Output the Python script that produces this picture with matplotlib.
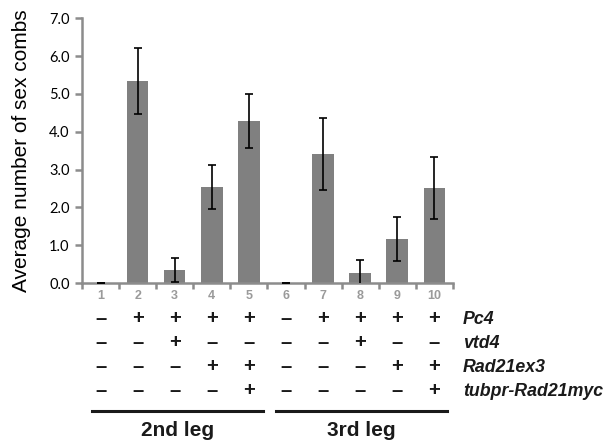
import matplotlib
matplotlib.use('Agg')
import matplotlib.pyplot as plt
from matplotlib.lines import Line2D
from matplotlib.transforms import blended_transform_factory
import numpy as np

# bar values and error bars
lanes = ['1', '2', '3', '4', '5', '6', '7', '8', '9', '10']
means = [0.0, 5.35, 0.34, 2.54, 4.29, 0.0, 3.40, 0.27, 1.17, 2.51]
errs = [0.0, 0.87, 0.31, 0.58, 0.71, 0.0, 0.95, 0.33, 0.58, 0.83]

# genotype table under the bars
genes = ['Pc4', 'vtd4', 'Rad21ex3', 'tubpr-Rad21myc']
genotype = [
    '-++++-++++',
    '--+----+--',
    '---++---++',
    '----+----+',
]
groups = ['2nd leg', '3rd leg']

fig = plt.figure(figsize=(6.03, 4.43), dpi=100)
ax = fig.add_axes([0.136, 0.361, 0.615, 0.598])

x = np.arange(len(lanes))
ax.bar(x, means, width=0.58, color='#808080', zorder=2)
ax.errorbar(x, means, yerr=errs, fmt='none', ecolor='black',
            elinewidth=1.2, capsize=3, capthick=1.2, zorder=3)

ax.set_xlim(-0.5, 9.5)
ax.set_ylim(0, 7)
ax.set_yticks(np.arange(0, 8, 1))
ax.set_yticklabels(['%.1f' % v for v in range(8)], family='Lato', fontsize=10.5)
ax.set_xticks(x)
ax.set_xticklabels(lanes, family='Liberation Sans', fontsize=9,
                   color='#9a9a9a', fontweight='bold')
ax.set_xticks(np.arange(-0.5, 10, 1), minor=True)
ax.tick_params(axis='x', which='major', length=0, pad=5)
ax.tick_params(axis='x', which='minor', length=4, width=1.8, color='#8c8c8c', direction='out')
ax.tick_params(axis='y', length=5, width=1.8, color='#8c8c8c', pad=4)

for s in ['top', 'right']:
    ax.spines[s].set_visible(False)
for s in ['left', 'bottom']:
    ax.spines[s].set_color('#8c8c8c')
    ax.spines[s].set_linewidth(1.8)

ax.set_ylabel('Average number of sex combs', family='Liberation Sans',
              fontsize=15, labelpad=13)

tr = blended_transform_factory(ax.transData, fig.transFigure)
row_y = [1 - 319 / 443, 1 - 343 / 443, 1 - 367 / 443, 1 - 391 / 443]
for gi, gene in enumerate(genes):
    for li, sym in enumerate(genotype[gi]):
        ch = '+' if sym == '+' else '\u2013'
        ax.text(x[li], row_y[gi], ch, transform=tr, ha='center', va='center',
                family='Liberation Sans', fontweight='bold', fontsize=14.5,
                color='#1a1a1a', clip_on=False)
    fig.text(0.768, row_y[gi], gene, ha='left', va='center',
             family='Liberation Sans', fontweight='bold', style='italic',
             fontsize=12.8, color='#1a1a1a')

line_y = 1 - 411 / 443
spans = [(-0.23, 4.37), (4.72, 9.34)]
for (a, b), name in zip(spans, groups):
    ax.add_line(Line2D([a, b], [line_y, line_y], transform=tr, color='#1a1a1a',
                       linewidth=2.2, clip_on=False))
    ax.text((a + b) / 2, 1 - 430 / 443, name, transform=tr, ha='center', va='center',
            family='Liberation Sans', fontweight='bold', fontsize=15, color='#1a1a1a')

fig.savefig('out.png', dpi=100)
